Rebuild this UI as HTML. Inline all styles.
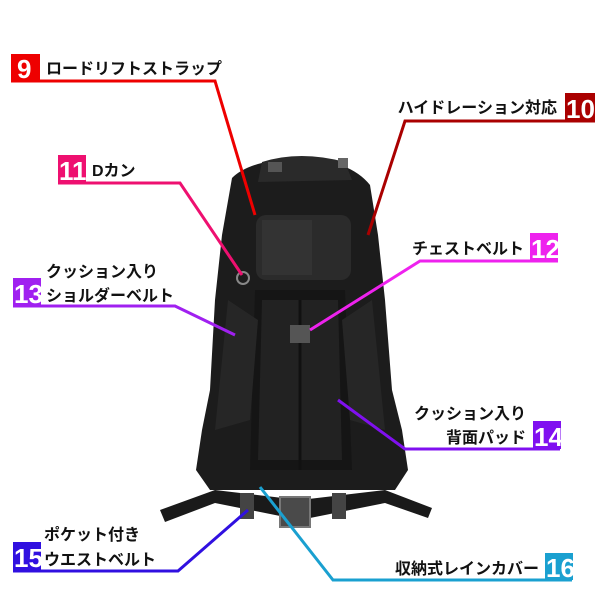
<!DOCTYPE html>
<html><head><meta charset="utf-8"><style>
html,body{margin:0;padding:0;background:#fff;}
svg{display:block;}
text{font-family:"Liberation Sans","Noto Sans CJK JP",sans-serif;}
.l{font-size:16px;fill:#111;font-weight:bold;}
.n{font-size:26px;fill:#fff;font-weight:bold;font-family:"Liberation Sans Narrow","Liberation Sans",sans-serif;}
</style></head><body>
<svg width="600" height="600" viewBox="0 0 600 600" xmlns="http://www.w3.org/2000/svg">
<rect width="600" height="600" fill="#fff"/>
<g>
<path d="M232 178 Q250 160 300 158 Q350 160 370 185 L378 235 L385 300 L392 390 L402 430 L408 470 L395 490 L210 490 L196 470 L202 430 L210 390 L215 300 L222 235 Z" fill="#1c1c1c"/>
<path d="M262 162 Q300 150 345 162 L352 180 L258 182 Z" fill="#2a2a2a"/>
<rect x="256" y="215" width="95" height="65" rx="10" fill="#2b2b2b"/>
<rect x="262" y="220" width="50" height="55" fill="#333"/>
<path d="M255 290 L345 290 L352 470 L250 470 Z" fill="#151515"/>
<path d="M262 300 L338 300 L342 460 L258 460 Z" fill="#222"/>
<line x1="300" y1="300" x2="300" y2="470" stroke="#111" stroke-width="3"/>
<path d="M228 300 L258 320 L250 420 L215 430 Z" fill="#262626"/>
<path d="M372 300 L342 320 L350 420 L385 430 Z" fill="#262626"/>
<rect x="290" y="325" width="20" height="18" fill="#555"/>
<path d="M160 510 L215 490 L300 500 L385 490 L432 508 L428 518 L385 503 L300 520 L215 503 L165 522 Z" fill="#1a1a1a"/>
<rect x="240" y="493" width="14" height="26" fill="#444"/>
<rect x="332" y="493" width="14" height="26" fill="#444"/>
<rect x="280" y="497" width="30" height="30" fill="#4a4a4a" stroke="#777" stroke-width="2"/>
<rect x="268" y="162" width="14" height="10" fill="#555"/>
<rect x="338" y="158" width="10" height="10" fill="#666"/>
<circle cx="243" cy="278" r="6" fill="none" stroke="#888" stroke-width="2"/>
</g>
<g fill="none" stroke-width="3">
<polyline points="11,81 215,81 255,215" stroke="#ee0000"/>
<polyline points="595,121 405,121 368,235" stroke="#aa0000"/>
<polyline points="58,183 180,183 242,275" stroke="#ee1070"/>
<polyline points="558,261 420,261 310,330" stroke="#ee22ee"/>
<polyline points="13,306 175,306 235,335" stroke="#a020f0"/>
<polyline points="560,449 405,449 338,400" stroke="#8010f0"/>
<polyline points="13,571 178,571 248,510" stroke="#3010e0"/>
<polyline points="572,580 333,580 260,487" stroke="#1aa0d0"/>
</g>
<rect x="11" y="54" width="29" height="27" fill="#ee0000"/><text class="n" x="17" y="78">9</text>
<text class="l" x="46" y="74">ロードリフトストラップ</text>
<rect x="565" y="93" width="30" height="28" fill="#aa0000"/><text class="n" x="566" y="118">10</text>
<text class="l" x="557" y="113" text-anchor="end">ハイドレーション対応</text>
<rect x="58" y="155" width="28" height="28" fill="#ee1070"/><text class="n" x="59" y="180">11</text>
<text class="l" x="92" y="176">Dカン</text>
<rect x="530" y="233" width="28" height="28" fill="#ee22ee"/><text class="n" x="531" y="258">12</text>
<text class="l" x="524" y="254" text-anchor="end">チェストベルト</text>
<rect x="13" y="278" width="28" height="28" fill="#a020f0"/><text class="n" x="14" y="303">13</text>
<text class="l" x="46" y="277">クッション入り</text>
<text class="l" x="46" y="301">ショルダーベルト</text>
<rect x="533" y="421" width="28" height="28" fill="#8010f0"/><text class="n" x="534" y="446">14</text>
<text class="l" x="526" y="419" text-anchor="end">クッション入り</text>
<text class="l" x="526" y="443" text-anchor="end">背面パッド</text>
<rect x="13" y="542" width="28" height="29" fill="#3010e0"/><text class="n" x="14" y="567">15</text>
<text class="l" x="44" y="540">ポケット付き</text>
<text class="l" x="44" y="565">ウエストベルト</text>
<rect x="545" y="553" width="28" height="27" fill="#1aa0d0"/><text class="n" x="546" y="577">16</text>
<text class="l" x="539" y="574" text-anchor="end">収納式レインカバー</text>
</svg>
</body></html>
